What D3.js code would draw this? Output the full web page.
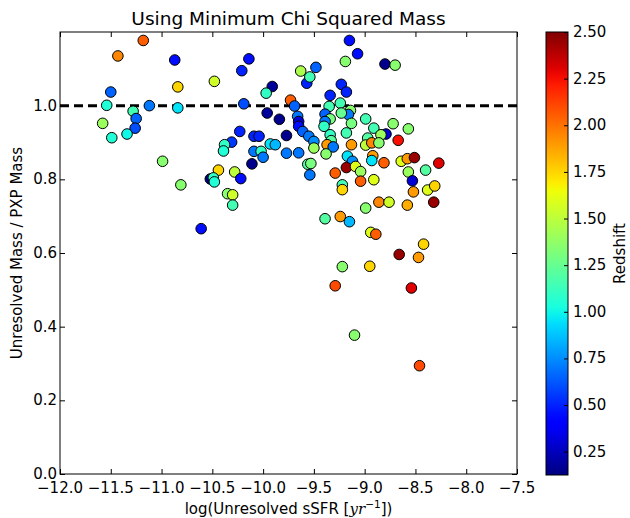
<!DOCTYPE html>
<meta charset="utf-8">

<style>

* {
	margin: 0;
	padding: 0;
}

body {
	background: #fff;
}

text {
	font-family: "DejaVu Sans", sans-serif;
	fill: #000;
}

.dot {
	stroke: #000;
	stroke-width: 1;
}

</style>

<body>

<script src="https://cdn.jsdelivr.net/npm/d3@7"></script>

<script>

// log(unresolved sSFR), mass ratio, redshift
var sfr = [
	-11.18, -11.43, -10.87, -10.14, -10.21, -9.63, -10.84, -10.48, -11.50, -9.91,
	-9.97, -11.54, -11.12, -10.84, -10.19, -9.73, -9.69, -11.28, -11.25, -11.26,
	-11.58, -11.49, -11.34, -9.96, -9.84, -9.66, -9.65, -9.65, -9.61, -10.23,
	-10.09, -10.04, -9.77, -10.31, -10.38, -10.39, -9.93, -9.88, -10.09, -10.02,
	-10.00, -9.77, -9.65, -10.11, -10.99, -10.44, -10.52, -10.49, -10.48, -10.28,
	-10.22, -10.81, -10.35, -10.30, -10.30, -10.61,
	-9.55, -9.50, -9.50, -9.57, -9.48, -9.54, -9.15, -9.07, -9.19, -8.80,
	-8.70, -9.23, -9.18, -9.34, -9.35, -9.24, -9.14, -9.16, -9.23, -9.39,
	-9.34, -9.13, -8.99, -9.39, -9.40, -8.91, -8.72, -8.57, -9.18, -9.34,
	-8.79, -8.84, -8.97, -8.67, -9.33, -9.37, -9.31, -9.13, -8.99, -8.93,
	-8.86, -9.38, -9.17, -8.92, -8.93, -9.12, -9.56, -9.53, -9.18, -9.09,
	-9.04, -8.81, -8.64, -8.58, -8.51, -8.27, -8.40, -8.57, -9.29, -9.54,
	-8.53, -8.52, -8.38, -8.31, -9.04, -8.91, -9.22, -9.22, -8.86, -8.76,
	-8.58, -8.32, -8.99, -9.39, -9.24, -9.15, -8.94, -8.89, -8.42, -8.66,
	-8.47, -9.22, -8.95, -9.29, -8.54, -9.10, -8.46
];

var massRatio = [
	1.177, 1.135, 1.124, 1.127, 1.095, 1.094, 1.051, 1.066, 1.037, 1.052,
	1.034, 1.001, 1.000, 0.994, 1.005, 1.015, 0.999, 0.985, 0.965, 0.939,
	0.952, 0.913, 0.923, 0.980, 0.963, 0.971, 0.957, 0.944, 0.930, 0.930,
	0.917, 0.917, 0.919, 0.901, 0.894, 0.877, 0.896, 0.894, 0.876, 0.876,
	0.860, 0.871, 0.872, 0.842, 0.849, 0.825, 0.801, 0.804, 0.793, 0.820,
	0.802, 0.785, 0.761, 0.758, 0.730, 0.666,
	0.917, 0.903, 0.885, 1.061, 1.104, 1.078, 1.177, 1.141, 1.120, 1.113,
	1.110, 1.058, 1.037, 1.028, 0.998, 1.007, 0.987, 0.976, 0.980, 0.977,
	0.964, 0.952, 0.964, 0.957, 0.944, 0.939, 0.951, 0.937, 0.926, 0.921,
	0.923, 0.921, 0.912, 0.906, 0.905, 0.894, 0.888, 0.894, 0.893, 0.899,
	0.899, 0.869, 0.863, 0.864, 0.851, 0.849, 0.841, 0.843, 0.832, 0.835,
	0.821, 0.845, 0.849, 0.856, 0.859, 0.844, 0.825, 0.820, 0.817, 0.812,
	0.796, 0.766, 0.771, 0.782, 0.795, 0.799, 0.785, 0.772, 0.738, 0.738,
	0.730, 0.738, 0.722, 0.693, 0.699, 0.685, 0.656, 0.651, 0.624, 0.596,
	0.588, 0.563, 0.564, 0.511, 0.505, 0.377, 0.294
];

var redshift = [
	2.05, 1.95, 0.45, 0.45, 0.50, 1.45, 1.75, 1.55, 0.65, 0.18,
	1.10, 1.05, 0.70, 0.95, 0.60, 2.05, 0.65, 1.15, 0.65, 0.60,
	1.40, 1.05, 1.00, 0.18, 0.15, 0.70, 0.30, 0.45, 0.65, 0.50,
	0.50, 0.50, 0.15, 0.55, 1.10, 1.05, 0.95, 0.85, 0.70, 1.10,
	0.70, 0.70, 0.70, 0.15, 1.35, 1.75, 0.13, 1.10, 1.05, 1.50,
	0.45, 1.35, 1.35, 1.55, 1.15, 0.45,
	0.70, 0.75, 1.40, 0.50, 0.65, 1.15, 0.45, 0.45, 1.35, 0.15,
	1.35, 0.50, 0.50, 0.50, 1.15, 1.15, 1.35, 0.70, 1.25, 0.65,
	1.30, 1.30, 1.15, 0.70, 1.10, 1.15, 1.35, 1.35, 1.15, 1.10,
	0.30, 1.40, 1.20, 2.25, 1.20, 1.90, 0.70, 1.90, 1.50, 1.95,
	1.35, 1.35, 0.95, 1.90, 0.95, 0.75, 1.20, 1.30, 2.45, 1.60,
	1.40, 2.05, 1.60, 1.90, 2.45, 2.30, 1.20, 1.40, 2.05, 0.70,
	0.30, 1.90, 1.60, 1.75, 2.05, 1.60, 1.15, 1.75, 1.95, 1.55,
	1.85, 2.45, 1.35, 1.20, 1.90, 0.85, 1.60, 2.05, 1.75, 2.45,
	1.90, 1.35, 1.75, 2.10, 2.30, 1.35, 2.10
];

var xTicks = [-12, -11.5, -11, -10.5, -10, -9.5, -9, -8.5, -8, -7.5];
var yTicks = [0, 0.2, 0.4, 0.6, 0.8, 1.0];
var zTicks = [0.25, 0.5, 0.75, 1.0, 1.25, 1.5, 1.75, 2.0, 2.25, 2.5];

var width = 630,
    height = 518,
    plotLeft = 60,
    plotRight = 517,
    plotTop = 32,
    plotBottom = 474,
    zMin = 0.125,
    zMax = 2.5;

var svg = d3.select("body").append("svg")
    .attr("width", width)
    .attr("height", height);

var x = d3.scaleLinear().domain([-12, -7.5]).range([plotLeft, plotRight]);
var y = d3.scaleLinear().domain([0, 1.2]).range([plotBottom, plotTop]);

// matplotlib jet
var jetR = d3.scaleLinear().domain([0, 0.35, 0.66, 0.89, 1]).range([0, 0, 1, 1, 0.5]).clamp(true);
var jetG = d3.scaleLinear().domain([0, 0.125, 0.375, 0.64, 0.91, 1]).range([0, 0, 1, 1, 0, 0]).clamp(true);
var jetB = d3.scaleLinear().domain([0, 0.11, 0.34, 0.65, 1]).range([0.5, 1, 1, 0, 0]).clamp(true);

function jet(t) {
	return d3.rgb(jetR(t) * 255, jetG(t) * 255, jetB(t) * 255).toString();
}

var zNorm = d3.scaleLinear().domain([zMin, zMax]).range([0, 1]).clamp(true);
function color(z) { return jet(zNorm(z)); }

var fmtMinus = function(s) { return s.replace("-", "\u2212"); };

// title
svg.append("text")
    .attr("x", (plotLeft + plotRight) / 2)
    .attr("y", 25)
    .attr("text-anchor", "middle")
    .style("font-size", "18.5px")
    .text("Using Minimum Chi Squared Mass");

// reference line
svg.append("line")
    .attr("x1", x(-12)).attr("x2", x(-7.5))
    .attr("y1", y(1)).attr("y2", y(1))
    .attr("stroke", "#000")
    .attr("stroke-width", 3)
    .attr("stroke-dasharray", "9,5");

var points = sfr.map(function(d, i) {
	return { x: d, y: massRatio[i], z: redshift[i] };
});

svg.append("g").selectAll("circle")
    .data(points)
    .enter().append("circle")
    .attr("class", "dot")
    .attr("cx", function(d) { return x(d.x); })
    .attr("cy", function(d) { return y(d.y); })
    .attr("r", 5.3)
    .attr("fill", function(d) { return color(d.z); });

// axes, ticks pointing inward on all four sides
svg.append("g")
    .attr("transform", "translate(0," + plotBottom + ")")
    .call(d3.axisTop(x).tickValues(xTicks).tickSize(5).tickFormat(""))
    .call(function(g) { g.select(".domain").remove(); });

svg.append("g")
    .attr("transform", "translate(0," + plotTop + ")")
    .call(d3.axisBottom(x).tickValues(xTicks).tickSize(5).tickFormat(""))
    .call(function(g) { g.select(".domain").remove(); });

svg.append("g")
    .attr("transform", "translate(" + plotLeft + ",0)")
    .call(d3.axisRight(y).tickValues(yTicks).tickSize(5).tickFormat(""))
    .call(function(g) { g.select(".domain").remove(); });

svg.append("g")
    .attr("transform", "translate(" + plotRight + ",0)")
    .call(d3.axisLeft(y).tickValues(yTicks).tickSize(5).tickFormat(""))
    .call(function(g) { g.select(".domain").remove(); });

svg.append("rect")
    .attr("x", plotLeft).attr("y", plotTop)
    .attr("width", plotRight - plotLeft).attr("height", plotBottom - plotTop)
    .attr("fill", "none")
    .attr("stroke", "#000")
    .attr("stroke-width", 1);

// tick labels
svg.append("g").selectAll("text")
    .data(xTicks)
    .enter().append("text")
    .attr("x", function(d) { return x(d); })
    .attr("y", 493)
    .attr("text-anchor", "middle")
    .style("font-size", "15px")
    .text(function(d) { return fmtMinus(d3.format(".1f")(d)); });

svg.append("g").selectAll("text")
    .data(yTicks)
    .enter().append("text")
    .attr("x", plotLeft - 3)
    .attr("y", function(d) { return y(d) + 5; })
    .attr("text-anchor", "end")
    .style("font-size", "15px")
    .text(function(d) { return d3.format(".1f")(d); });

// axis labels
var xl = svg.append("text")
    .attr("x", (plotLeft + plotRight) / 2)
    .attr("y", 514)
    .attr("text-anchor", "middle")
    .style("font-size", "15px");
xl.append("tspan").text("log(Unresolved sSFR [");
xl.append("tspan").style("font-style", "italic").style("font-family", "DejaVu Serif").text("yr");
xl.append("tspan").attr("dy", -6).style("font-size", "10.5px").text("\u22121");
xl.append("tspan").attr("dy", 6).text("])");

svg.append("text")
    .attr("transform", "translate(22," + ((plotTop + plotBottom) / 2) + ") rotate(-90)")
    .attr("text-anchor", "middle")
    .style("font-size", "15px")
    .text("Unresolved Mass / PXP Mass");

// colorbar
var cbLeft = 546, cbRight = 568, cbTop = 32, cbBottom = 475;
var zScale = d3.scaleLinear().domain([zMin, zMax]).range([cbBottom, cbTop]);

var defs = svg.append("defs");
var grad = defs.append("linearGradient")
    .attr("id", "jetgrad")
    .attr("x1", 0).attr("y1", 1).attr("x2", 0).attr("y2", 0);
d3.range(0, 1.0001, 0.02).forEach(function(t) {
	grad.append("stop").attr("offset", t).attr("stop-color", jet(t));
});

svg.append("rect")
    .attr("x", cbLeft).attr("y", cbTop)
    .attr("width", cbRight - cbLeft).attr("height", cbBottom - cbTop)
    .attr("fill", "url(#jetgrad)")
    .attr("stroke", "#000")
    .attr("stroke-width", 1);

svg.append("g")
    .attr("transform", "translate(" + cbRight + ",0)")
    .call(d3.axisLeft(zScale).tickValues(zTicks).tickSize(4).tickFormat(""))
    .call(function(g) { g.select(".domain").remove(); });

svg.append("g").selectAll("text")
    .data(zTicks)
    .enter().append("text")
    .attr("x", cbRight + 5)
    .attr("y", function(d) { return zScale(d) + 5; })
    .style("font-size", "15px")
    .text(function(d) { return d3.format(".2f")(d); });

svg.append("text")
    .attr("transform", "translate(625," + ((cbTop + cbBottom) / 2) + ") rotate(-90)")
    .attr("text-anchor", "middle")
    .style("font-size", "15px")
    .text("Redshift");

</script>
